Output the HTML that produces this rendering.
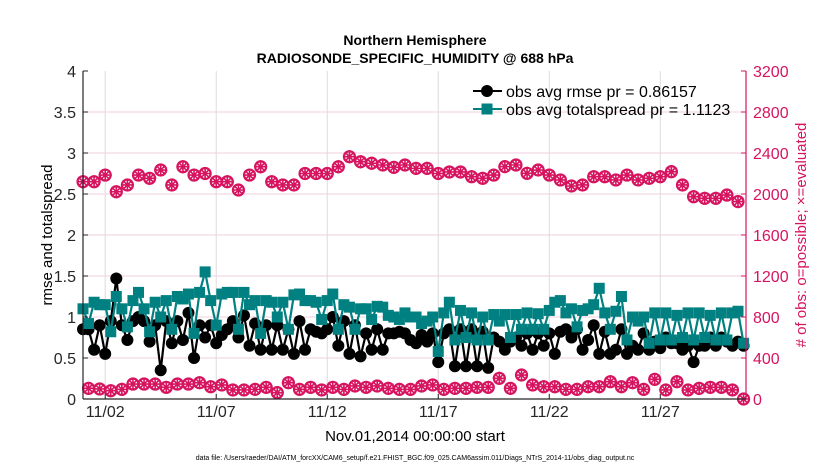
<!DOCTYPE html>
<html><head><meta charset="utf-8"><style>
body{margin:0;background:#fff;}
svg{display:block;font-family:"Liberation Sans",sans-serif;}
</style></head><body>
<svg id="chart" width="830" height="470" viewBox="0 0 830 470" xmlns="http://www.w3.org/2000/svg">
<g id="grid"></g>
<g id="series"></g>
<g id="axes"></g>
<text x="415" y="45" text-anchor="middle" font-size="14" font-weight="bold">Northern Hemisphere</text>
<text x="415" y="63" text-anchor="middle" font-size="14" font-weight="bold">RADIOSONDE_SPECIFIC_HUMIDITY @ 688 hPa</text>
<text x="415" y="441" text-anchor="middle" font-size="15">Nov.01,2014 00:00:00 start</text>
<text transform="translate(52,235) rotate(-90)" text-anchor="middle" font-size="15">rmse and totalspread</text>
<text transform="translate(806,235) rotate(-90)" text-anchor="middle" font-size="15" fill="#d6145f"># of obs: o=possible; ×=evaluated</text>
<text x="415" y="460" text-anchor="middle" font-size="7">data file: /Users/raeder/DAI/ATM_forcXX/CAM6_setup/f.e21.FHIST_BGC.f09_025.CAM6assim.011/Diags_NTrS_2014-11/obs_diag_output.nc</text>
<g>
<line x1="473" y1="91" x2="502" y2="91" stroke="#000" stroke-width="2"/>
<circle cx="487" cy="91" r="6" fill="#000"/>
<text x="506" y="97" font-size="16">obs avg rmse pr = 0.86157</text>
<line x1="473" y1="109" x2="502" y2="109" stroke="#008080" stroke-width="2"/>
<rect x="481.5" y="103.5" width="11" height="11" fill="#008080"/>
<text x="506" y="115" font-size="16">obs avg totalspread pr = 1.1123</text>
</g>
</svg>
<script>
const rmse = [
0.85,0.85,0.6,0.9, 0.55,0.95,1.47,0.9, 0.72,0.95,1.0,0.95, 0.7,0.9,0.35,0.95,
0.68,0.95,0.72,1.05, 0.5,0.9,0.75,0.9, 0.68,0.78,0.85,0.95, 0.75,1.02,0.65,0.92,
0.6,0.9,0.6,0.9, 0.6,0.85,0.55,0.95, 0.6,0.85,0.82,0.8, 0.85,1.0,0.65,0.95,
0.55,0.9,0.52,0.8, 0.6,0.85,0.6,0.8, 0.8,0.82,0.8,0.72, 0.68,0.78,0.7,0.8,
0.45,0.8,0.85,0.4, 0.85,0.4,0.85,0.4, 0.82,0.38,0.75,0.7, 0.6,0.7,0.75,0.65,
0.8,0.6,0.8,0.65, 0.8,0.55,0.82,0.85, 0.75,0.85,0.6,0.72, 0.9,0.55,0.82,0.55,
0.6,0.85,0.55,0.65, 0.6,0.8,0.6,0.7, 0.62,0.75,0.68,0.68, 0.6,0.65,0.45,0.65,
0.65,0.75,0.65,0.75, 0.7,0.65,0.7,0.65];
const spread = [
1.1,0.92,1.18,1.15, 1.15,0.82,1.25,1.1, 0.88,1.2,1.3,1.1, 0.82,1.18,1.0,1.2,
0.85,1.25,1.22,1.28, 0.8,1.3,1.55,1.2, 0.9,1.28,1.3,1.3, 0.85,1.3,1.15,1.2,
0.8,1.2,1.18,1.0, 1.18,0.85,1.27,1.28, 1.2,1.2,1.18,0.97, 1.2,1.28,0.85,1.15,
1.12,0.85,1.1,1.1, 0.97,1.13,1.12,1.02, 1.0,0.97,1.05,1.0, 1.0,0.92,0.95,1.0,
0.58,1.05,1.18,0.72, 1.08,0.75,1.05,0.72, 1.0,0.72,1.03,0.95, 1.03,0.75,1.03,0.85,
1.05,0.85,1.04,0.85, 1.08,1.18,1.2,1.05, 1.1,0.88,1.08,1.1, 1.15,1.35,1.05,0.85,
1.07,1.25,0.72,1.0, 0.95,1.0,0.68,1.05, 0.72,1.05,0.72,1.02, 0.75,1.05,0.72,1.05,
0.75,1.02,0.72,1.05, 0.72,1.05,1.07,0.68];
const nPossible = [2120,2120,2185,2022,2088,2185,2153,2234,2088,2266,2185,2200,2120,2120,2039,2185,2266,2120,2088,2088,
2200,2200,2200,2266,2364,2315,2300,2283,2260,2283,2250,2250,2200,2215,2215,
2169,2153,2185,2267,2283,2202,2234,2185,2137,2078,2088,2169,2169,2137,2185,2137,2153,2169,2218,2088,1974,1958,1958,1990,1926];
const nLow = [104,98,81,94,146,146,146,114,146,146,159,120,137,88,88,94,114,62,159,94,114,88,114,94,127,114,127,104,94,94,127,137,
94,104,104,114,114,202,104,234,137,120,120,94,94,120,120,169,120,159,94,192,88,169,88,104,114,114,88,0];
const xTickDays = [2,7,12,17,22,27];
const xTickLabels = ["11/02","11/07","11/12","11/17","11/22","11/27"];
const yTicks = [0,0.5,1,1.5,2,2.5,3,3.5,4];
const yTickLabels = ["0","0.5","1","1.5","2","2.5","3","3.5","4"];
const y2Ticks = [0,400,800,1200,1600,2000,2400,2800,3200];

const L=83,R=746,T=71,B=399,PINK="#d6145f";
const xS=d=>L+(d-1)*(R-L)/(30.86-1);
const yS=v=>B-v*(B-T)/4;
const y2S=c=>B-c*(B-T)/3200;
const NS="http://www.w3.org/2000/svg";
function mk(parent,tag,attrs){const e=document.createElementNS(NS,tag);for(const k in attrs)e.setAttribute(k,attrs[k]);parent.appendChild(e);return e;}
const grid=document.getElementById('grid'),ser=document.getElementById('series'),ax=document.getElementById('axes');

yTicks.forEach((v,i)=>{
  if(v>0&&v<4){const g=mk(grid,'line',{x1:L,x2:R,y1:yS(v),y2:yS(v),stroke:'#f2cfdc','stroke-width':1});
  
  }
  const t=mk(ax,'text',{x:L-7,y:yS(v)+6,'text-anchor':'end','font-size':16,fill:'#262626'});t.textContent=yTickLabels[i];
  
  
  mk(ax,'line',{x1:L,x2:L+5,y1:yS(v),y2:yS(v),stroke:'#262626'});
});
y2Ticks.forEach(c=>{
  const t=mk(ax,'text',{x:R+7,y:y2S(c)+6,'font-size':16,fill:PINK});t.textContent=String(c);
  
  
  mk(ax,'line',{x1:R-5,x2:R,y1:y2S(c),y2:y2S(c),stroke:PINK});
});
xTickDays.forEach((d,i)=>{
  const g=mk(grid,'line',{x1:xS(d),x2:xS(d),y1:T,y2:B,stroke:'#dcdcdc','stroke-width':1});
  
  
  const t=mk(ax,'text',{x:xS(d),y:417,'text-anchor':'middle','font-size':16,fill:'#262626'});t.textContent=xTickLabels[i];
  
  
  mk(ax,'line',{x1:xS(d),x2:xS(d),y1:B,y2:B-5,stroke:'#262626'});
});
const la=mk(ax,'line',{x1:L,x2:L,y1:T,y2:B,stroke:'#262626','stroke-width':1.2});


const ra=mk(ax,'line',{x1:R,x2:R,y1:T,y2:B,stroke:PINK,'stroke-width':1.2});


const ba=mk(ax,'line',{x1:L,x2:R,y1:B,y2:B,stroke:'#262626','stroke-width':1.2});



function pinkMarker(x,y,name){
  const g=mk(ser,'g',{});
  
  
  mk(g,'circle',{cx:x,cy:y,r:5.5,fill:'none',stroke:PINK,'stroke-width':2.2});
  let d='';for(let k=0;k<4;k++){const a=k*Math.PI/4;d+=`M${x-6.5*Math.cos(a)},${y-6.5*Math.sin(a)}L${x+6.5*Math.cos(a)},${y+6.5*Math.sin(a)}`;}
  mk(g,'path',{d:d,stroke:PINK,'stroke-width':1.6});
}
nPossible.forEach((c,i)=>pinkMarker(xS(1+0.5*i),y2S(c),'obs-possible-marker'));
nLow.forEach((c,i)=>pinkMarker(xS(1.25+0.5*i),y2S(c),'obs-evaluated-marker'));

function line(vals,col,name){
  const p=mk(ser,'polyline',{points:vals.map((v,i)=>xS(1+0.25*i)+','+yS(v)).join(' '),fill:'none',stroke:col,'stroke-width':2.2});
  
  
}
line(rmse,'#000','rmse-line');
rmse.forEach((v,i)=>{const c=mk(ser,'circle',{cx:xS(1+0.25*i),cy:yS(v),r:6,fill:'#000'});
  
  });
line(spread,'#008080','spread-line');
spread.forEach((v,i)=>{const r=mk(ser,'rect',{x:xS(1+0.25*i)-5.5,y:yS(v)-5.5,width:11,height:11,fill:'#008080'});
  
  });
</script>
</body></html>
